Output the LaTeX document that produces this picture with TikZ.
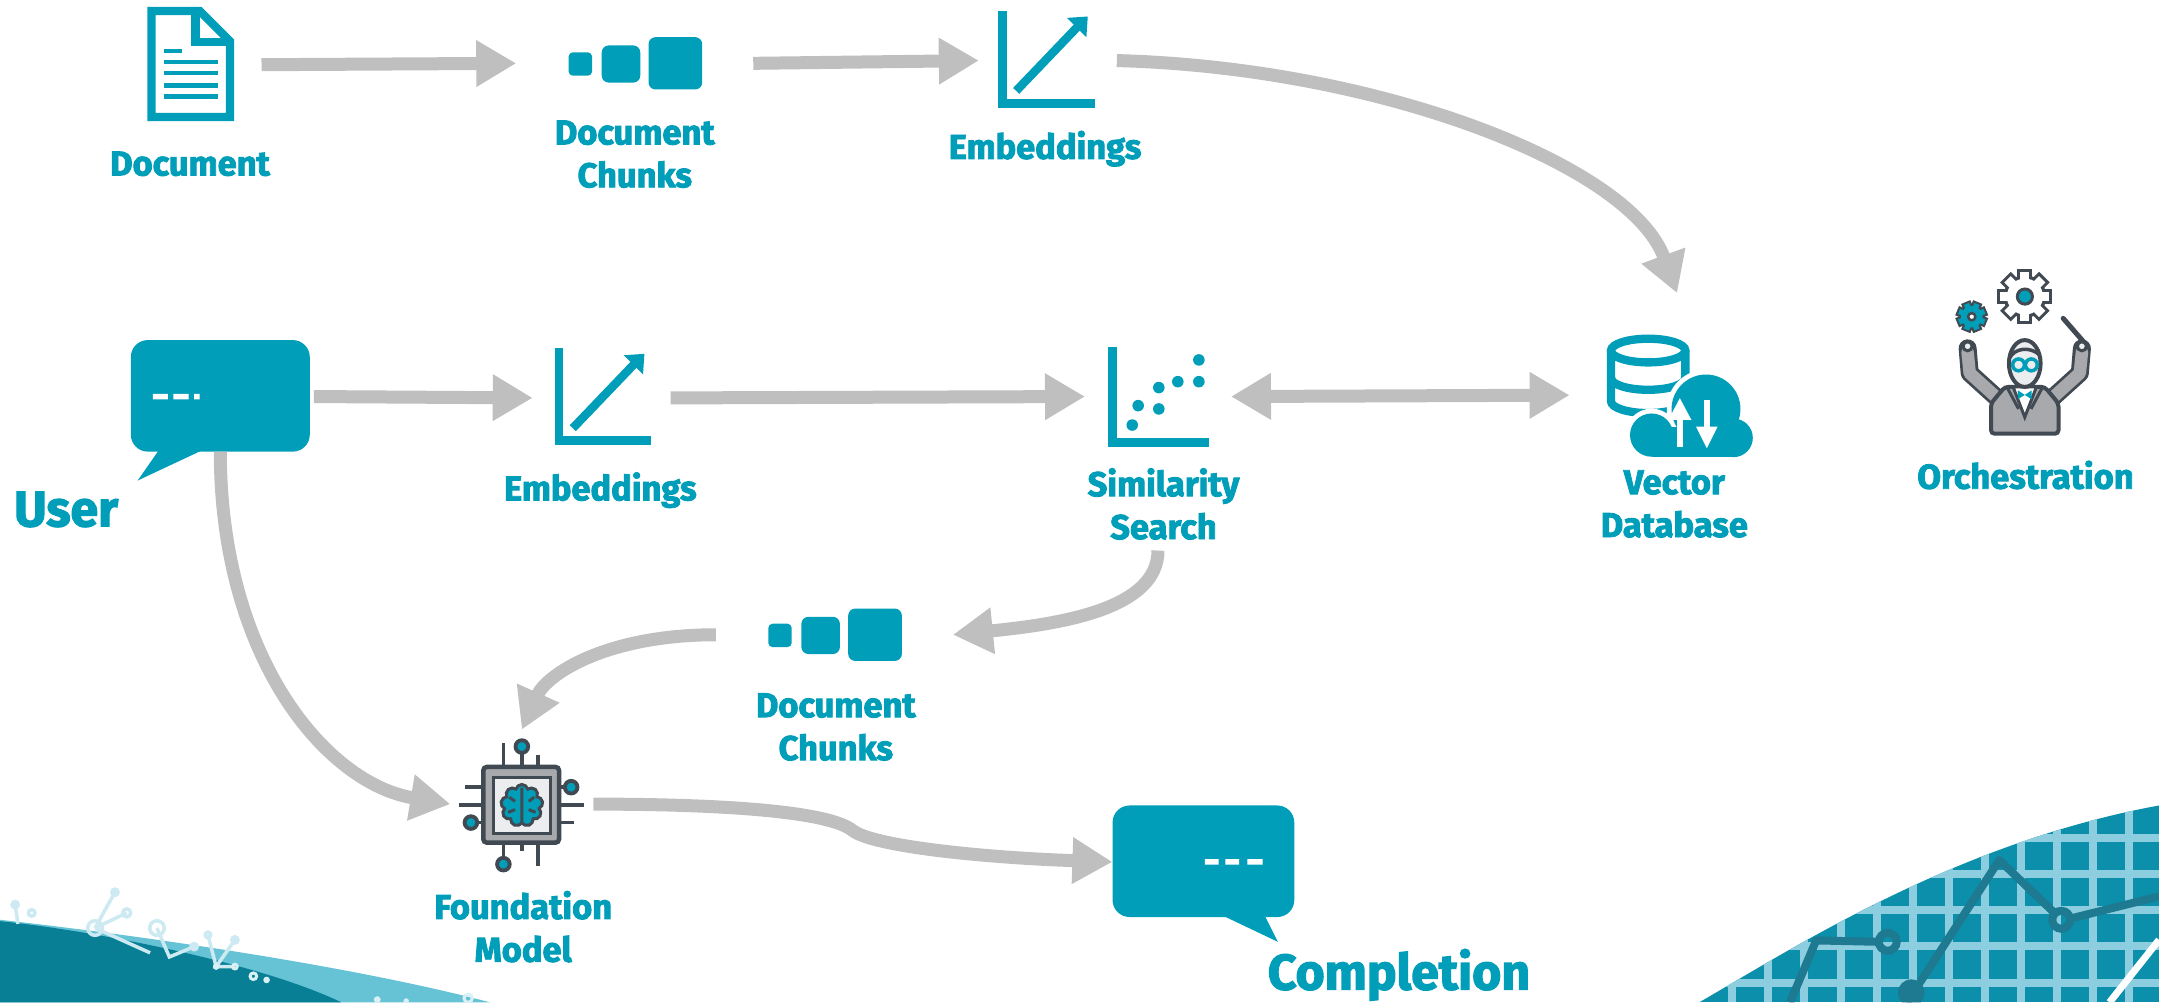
\documentclass[tikz,border=0pt]{standalone}
\usepackage{fontspec}
\setmainfont{Fira Sans}
\newfontfamily\heavy{Fira Sans}[UprightFont={* Bold},FakeBold=2.5]
\usetikzlibrary{arrows.meta,shapes.symbols}

\definecolor{accent}{HTML}{009EB8}
\definecolor{arrowgray}{HTML}{BFBFBF}
\definecolor{ink}{HTML}{414A52}
\definecolor{suit}{HTML}{A7A9AC}
\definecolor{pale}{HTML}{ECEDEF}
\definecolor{deepteal}{HTML}{087F95}
\definecolor{lightteal}{HTML}{66C3D5}
\definecolor{gridteal}{HTML}{0B8FAA}
\definecolor{gridline}{HTML}{8CCEDF}
\definecolor{graphline}{HTML}{1E7A90}
\definecolor{faint}{HTML}{CDE9F2}

\tikzset{
  pics/chunks/.style={code={
    \fill[accent,rounded corners=1.2pt] (-48,-8) rectangle (-31,9);
    \fill[accent,rounded corners=2pt] (-24,-13) rectangle (4,14);
    \fill[accent,rounded corners=2pt] (10,-19) rectangle (49,19);
  }},
  pics/trend/.style={code={
    \draw[accent,line width=0.85mm] (3,0) -- (3,67) -- (70,67);
    \draw[accent,line width=0.85mm] (13,58) -- (58,11);
    \fill[accent] (65,4) -- (50,5) -- (64,19) -- cycle;
  }},
}

\begin{document}
\begin{tikzpicture}[x=0.1377mm,y=-0.1377mm,
  hit/.style={inner sep=0pt,outer sep=0pt},
  lbl/.style={text=accent,font=\heavy\fontsize{9.8}{12.2}\selectfont,align=center,inner sep=0pt},
  big/.style={text=accent,font=\heavy\fontsize{14.2}{16}\selectfont,inner sep=0pt},
  flow/.style={draw=arrowgray,line width=1.3mm,-{Triangle[length=4mm,width=4.4mm]}},
  both/.style={draw=arrowgray,line width=1.3mm,{Triangle[length=4mm,width=4.4mm]}-{Triangle[length=4mm,width=4.4mm]}}]
\useasboundingbox (0,0) rectangle (1568,728);

% bottom left wave
\fill[lightteal] (0,668) .. controls (90,678) and (250,700) .. (356,728) -- (0,728) -- cycle;
\fill[deepteal] (0,669) .. controls (70,676) and (190,700) .. (248,728) -- (0,728) -- cycle;
\begin{scope}[faint,line width=0.35mm]
  \draw (11,657) -- (13,671) (83.5,648) -- (69,674) (92,663) -- (69,674) (69,674) -- (109,692)
    (114,674) -- (123,695) -- (141,687.5) (151,679) -- (157,702) (170.6,682.6) -- (157,702) -- (170.6,702);
  \fill (11,657) circle (3.6) (83.5,648) circle (3.6) (141,687.5) circle (3.6) (170.6,682.6) circle (3.6);
  \draw (23,663) circle (2.4) (69,674) circle (5.3) (92,663) circle (2.9) (114,674) circle (5.3) (151,679) circle (2);
\end{scope}
\draw[white!75!lightteal,line width=0.3mm] (170.6,702) circle (1.7) (184,709) circle (2.4) (340,725) circle (3);
\fill[white!75!lightteal] (157,702) circle (2.4) (193.6,711.7) circle (2.4) (274,726) circle (2.5) (295,727) circle (2);

% bottom right grid
\begin{scope}
  \clip (1234,728) .. controls (1300,690) and (1420,612) .. (1568,585) -- (1568,728) -- cycle;
  \fill[gridteal] (1200,570) rectangle (1568,728);
  \foreach \gx in {1258.1,1284.3,...,1568} \draw[gridline,line width=0.8mm] (\gx,570) -- (\gx,728);
  \foreach \gy in {582.6,608.8,...,728} \draw[gridline,line width=0.8mm] (1200,\gy) -- (1568,\gy);
  \draw[graphline,line width=0.8mm,line join=round] (1300,728) -- (1319,683) -- (1364,684);
  \draw[graphline,line width=0.8mm,line join=round] (1385,728) -- (1452,624.6) -- (1492,663);
  \draw[graphline,line width=0.8mm] (1504,667) -- (1568,651);
  \draw[graphline,line width=0.8mm] (1371,684) circle (6.5) (1497,668) circle (6.5);
  \fill[graphline] (1388,721) circle (9.7);
  \draw[white,line width=0.7mm] (1568,682.6) -- (1532,728);
\end{scope}

% document
\draw[accent,line width=0.83mm] (110,8) -- (145,8) -- (167,30) -- (167,85) -- (110,85) -- cycle;
\draw[accent,line width=0.83mm] (142,8) -- (142,30.5) -- (167,30.5);
\draw[accent,line width=0.47mm] (119,37) -- (132,37);
\foreach \ly in {45,53,62,70} \draw[accent,line width=0.47mm] (119,\ly) -- (158,\ly);
\node[hit,minimum width=14.3mm,minimum height=11.8mm] (doc) at (138,47) {};
\node[lbl] (docL) at (138,119) {Document};

\pic at (461,46) {chunks};
\node[hit,minimum width=23.7mm,minimum height=5.5mm] (chunkT) at (461,46) {};
\node[lbl] (chunkTL) at (461,112) {Document\\Chunks};

\pic at (725,8) {trend};
\node[hit,minimum width=13.8mm,minimum height=9.9mm] (embT) at (761,44) {};
\node[lbl] (embTL) at (759,108) {Embeddings};

% user bubble
\fill[accent,rounded corners=1.7mm] (95,247) rectangle (225,328);
\fill[accent] (116,326) -- (100,349) -- (149,326) -- cycle;
\fill[white] (111,286) rectangle (122,290) (126,286) rectangle (137,290) (141,286) rectangle (145,290);
\node[hit,minimum width=18.7mm,minimum height=11mm] (userB) at (160,288) {};
\node[big] (userL) at (48,370) {User};

\pic at (403,253) {trend};
\node[hit,minimum width=13.8mm,minimum height=9.9mm] (embM) at (437,289) {};
\node[lbl] (embML) at (436,356) {Embeddings};

% similarity search
\draw[accent,line width=0.88mm] (808,252) -- (808,321.5) -- (878,321.5);
\foreach \p in {(822.3,308.7),(826.6,294.6),(841.6,297),(841.6,281.5),(855.4,277.2),(870.7,277.2),(870.7,261.4)}
  \fill[accent] \p circle (4.2);
\node[hit,minimum width=14.6mm,minimum height=30.8mm] (sim) at (841,288) {};
\node[lbl] (simL) at (845,366) {Similarity\\Search};

% vector database
\begin{scope}[accent,line width=0.83mm]
  \draw (1197,254.6) ellipse (27 and 8.6);
  \draw (1170,254.6) -- (1170,291.4) arc[start angle=180,end angle=0,x radius=27,y radius=8.6] -- (1224,254.6);
  \draw (1170,274.5) arc[start angle=180,end angle=0,x radius=27,y radius=8.6];
\end{scope}
\fill[white] (1239,297) circle (28.5) (1199.5,316) circle (19.2) (1259,318) circle (17.5);
\fill[white] (1199.5,306) rectangle (1259,335);
\fill[accent] (1239,297) circle (25) (1199.5,316) circle (15.7) (1259,318) circle (14);
\fill[accent] (1199.5,310) rectangle (1259,331.6);
\fill[white] (1217.6,304) rectangle (1222.4,324.3);
\fill[white] (1211.6,305) -- (1220,289.2) -- (1228.4,305) -- cycle;
\fill[white] (1237.2,290.4) rectangle (1242,310.5);
\fill[white] (1231.7,309.8) -- (1239.6,325.5) -- (1247.5,309.8) -- cycle;
\node[hit,minimum width=21.5mm,minimum height=20.4mm] (vdb) at (1218,287) {};
\node[lbl] (vdbL) at (1216,366) {Vector\\Database};

% orchestration
\begin{scope}[shift={(1470.6,215.4)}]
  \foreach \a in {0,45,...,315} \draw[ink,line width=1.5mm] (\a:12) -- (\a:20);
  \fill[ink] (0,0) circle (15.5);
  \foreach \a in {0,45,...,315} \draw[white,line width=0.9mm] (\a:12) -- (\a:17.8);
  \fill[white] (0,0) circle (13.1);
  \filldraw[accent,draw=ink,line width=0.3mm] (0,0) circle (5.5);
\end{scope}
\begin{scope}[shift={(1432,230)}]
  \foreach \a in {22.5,67.5,...,360} \draw[ink,line width=1mm] (\a:7) -- (\a:11.5);
  \fill[ink] (0,0) circle (9.3);
  \foreach \a in {22.5,67.5,...,360} \draw[accent,line width=0.55mm] (\a:7) -- (\a:10);
  \fill[accent] (0,0) circle (7.8);
  \filldraw[white,draw=ink,line width=0.25mm] (0,0) circle (2.6);
\end{scope}
\draw[ink,line width=0.5mm,line cap=round] (1513,248) -- (1498.4,231.2);
\foreach \s in {1,-1}{
  \draw[ink,line width=1.8mm,line join=round,line cap=round] (1470.5-\s*19,290) -- (1470.5-\s*40,271) -- (1470.5-\s*41.5,253);
  \draw[suit,line width=1.25mm,line join=round,line cap=round] (1470.5-\s*19,290) -- (1470.5-\s*40,271) -- (1470.5-\s*41.5,256);
  \filldraw[fill=pale,draw=ink,line width=0.3mm] (1470.5-\s*41.5,251.5) circle (3.3);
}
\filldraw[fill=suit,draw=ink,line width=0.4mm,rounded corners=1pt] (1446,315) -- (1446,293) -- (1456,281) -- (1485,281) -- (1495,293) -- (1495,315) -- cycle;
\filldraw[fill=white,draw=ink,line width=0.3mm] (1462,281) -- (1479,281) -- (1470.5,303) -- cycle;
\draw[ink,line width=0.3mm] (1458,282) -- (1466,297) (1483,282) -- (1475,297);
\fill[accent] (1465.5,283.5) -- (1470.5,286.8) -- (1465.5,290) -- cycle;
\fill[accent] (1475.5,283.5) -- (1470.5,286.8) -- (1475.5,290) -- cycle;
\filldraw[fill=pale,draw=ink,line width=0.4mm] (1470.5,264) ellipse (11.5 and 17);
\draw[ink,line width=0.35mm] (1459.5,260) .. controls (1463,253) and (1474,251) .. (1481.5,258);
\draw[accent,line width=0.35mm] (1466,265) circle (4.3) (1475.3,265) circle (4.3);
\node[hit,minimum width=13mm,minimum height=17mm] (orch) at (1468,255) {};
\node[lbl] (orchL) at (1471,345) {Orchestration};

\pic at (606,461) {chunks};
\node[hit,minimum width=23.7mm,minimum height=5.5mm] (chunkM) at (606,461) {};
\node[lbl] (chunkML) at (607,528) {Document\\Chunks};

% foundation model chip
\begin{scope}[ink,line width=0.38mm]
  \draw (365.6,557) -- (365.6,539.8) (379,557) -- (379,547) (391,557) -- (391,548.3);
  \draw (365.6,612) -- (365.6,623) (379,612) -- (379,618.4) (391,612) -- (391,629.3);
  \draw (351,571.7) -- (337.8,571.7) (351,584.6) -- (333.6,584.6) (351,597.4) -- (347,597.4);
  \draw (406,571.7) -- (410,571.7) (406,584.6) -- (424,584.6) (406,597.4) -- (417,597.4);
  \filldraw[fill=accent] (379,542.2) circle (4.6) (365.6,627.6) circle (4.6)
    (342,597.4) circle (4.6) (414.8,571.7) circle (4.6);
\end{scope}
\filldraw[fill=suit,draw=ink,line width=0.45mm,rounded corners=1pt] (351,557) rectangle (406,612);
\filldraw[fill=pale,draw=ink,line width=0.3mm] (358.6,564.7) rectangle (399.5,605);
\node[cloud,cloud puffs=9,aspect=1,minimum width=4.2mm,minimum height=4.2mm,inner sep=0pt,fill=accent,draw=ink,line width=0.3mm] (brain) at (379,585) {};
\draw[ink,line width=0.3mm] (379,572) -- (379,598) (370,579) -- (374,582) (369,590) -- (374,588) (388,579) -- (384,582) (389,590) -- (384,588);
\node[hit,minimum width=14.3mm,minimum height=14.9mm] (fm) at (379,584) {};
\node[lbl] (fmL) at (380,673) {Foundation\\Model};

% completion bubble
\fill[accent,rounded corners=1.7mm] (808,585) rectangle (940,666);
\fill[accent] (886,664) -- (928,684) -- (918,664) -- cycle;
\fill[white] (875,624) rectangle (885,628) (890,624) rectangle (900,628) (906,624) rectangle (917,628);
\node[hit,minimum width=18.2mm,minimum height=11.3mm] (comp) at (874,626) {};
\node[big] (compL) at (1016,708) {Completion};

% connectors
\draw[flow] (doc.east) -- (chunkT.west);
\draw[flow] (chunkT.east) -- (embT.west);
\draw[flow] (embT.east) .. controls +(190,5) and +(-34,-93) .. (vdb.north);
\draw[flow] (userB.east) -- (embM.west);
\draw[flow] (embM.east) -- (sim.west);
\draw[both] (sim.east) -- (vdb.west);
\draw[flow] (sim.south) .. controls +(0,42) and +(80,-8) .. (chunkM.east);
\draw[flow] (chunkM.west) .. controls +(-80,0) and +(18,-40) .. (fm.north);
\draw[flow] (userB.south) .. controls +(0,150) and +(-90,-15) .. (fm.west);
\coordinate (kink) at (619,603);
\draw[flow] (fm.east) .. controls +(110,0) and +(-15,-12) .. (kink) .. controls +(15,12) and +(-90,-3) .. (comp.west);
\end{tikzpicture}
\end{document}
